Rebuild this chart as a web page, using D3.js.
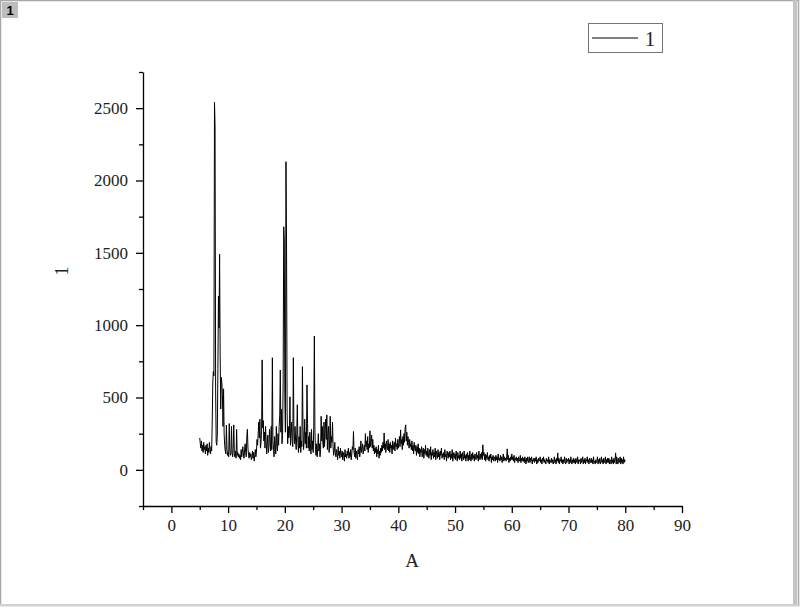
<!DOCTYPE html>
<html>
<head>
<meta charset="utf-8">
<script src="https://cdn.jsdelivr.net/npm/d3@7"></script>
<style>
  body { margin: 0; background: #fff; }
  svg text { font-family: "Liberation Serif", "DejaVu Serif", serif; fill: #222; }
</style>
</head>
<body>
<svg id="vis" width="800" height="608"></svg>
<script>
// 2-theta scan: starts at 5.0, one reading every 0.1 up to 80.0
var scanStart = 5.0, scanStep = 0.1;
var counts = [
  220,180,150,200,130,170,120,190,140,160,  // 5
  110,170,130,180,100,150,120,190,140,110,  // 6
  160,130,330,600,680,650,2540,2380,560,190, // 7
  170,240,700,1200,980,1490,800,420,640,600, // 8
  520,300,560,250,170,130,110,310,150,100,  // 9
  120,90,320,140,100,110,300,120,90,150,    // 10
  310,110,90,130,80,280,100,120,90,110,     // 11
  80,100,70,140,90,120,160,110,80,130,      // 12
  180,120,90,230,280,150,100,80,120,90,     // 13
  110,70,90,130,80,120,60,100,140,90,       // 14
  130,210,170,250,330,220,350,150,190,270,  // 15
  760,290,340,200,260,150,300,200,110,180,  // 16
  240,120,160,280,210,130,300,140,775,200,  // 17
  150,90,230,180,110,300,160,130,250,170,   // 18
  300,380,690,260,420,180,240,600,1680,1590, // 19
  520,260,2130,1554,400,180,300,220,250,505, // 20
  170,250,330,200,160,775,260,180,300,200,  // 21
  140,250,450,190,120,230,150,300,120,200,  // 22
  160,713,300,140,200,350,180,260,150,587,  // 23
  320,150,230,130,260,180,110,280,140,200,  // 24
  120,300,925,270,140,100,180,90,150,250,   // 25
  130,180,90,140,370,200,300,180,150,330,   // 26
  160,280,350,210,380,140,250,300,120,200,  // 27
  370,150,230,190,330,160,100,130,190,120,  // 28
  90,140,110,70,160,100,130,80,150,110,     // 29
  90,130,70,120,100,60,140,90,110,80,       // 30
  130,100,150,80,120,90,140,70,110,160,     // 31
  140,265,120,90,150,80,130,100,70,140,     // 32
  110,160,90,130,200,120,150,180,110,140,   // 33
  170,130,250,160,200,140,230,120,180,150,  // 34
  270,160,190,240,150,210,130,170,110,150,  // 35
  120,160,90,140,110,170,80,130,100,150,    // 36
  120,170,130,190,150,255,140,180,120,200,  // 37
  160,140,210,130,180,120,190,150,170,110,  // 38
  200,140,170,190,130,220,160,180,140,210,  // 39
  150,190,230,160,276,180,210,140,230,170,  // 40
  250,190,290,311,200,260,170,230,190,150,  // 41
  210,160,180,140,200,130,170,110,190,150,  // 42
  130,170,100,160,120,180,110,150,90,140,   // 43
  120,160,90,130,150,80,140,110,170,100,    // 44
  130,90,150,110,80,140,100,160,70,120,     // 45
  100,140,80,120,90,150,70,130,110,80,      // 46
  140,90,120,70,130,100,150,80,110,90,      // 47
  120,70,140,90,110,60,130,100,80,120,      // 48
  90,130,70,110,80,140,60,100,120,80,       // 49
  110,70,130,90,60,120,80,100,70,130,       // 50
  80,110,60,120,90,70,130,80,100,60,        // 51
  110,80,120,60,100,70,130,90,60,110,       // 52
  70,120,80,100,60,110,90,70,120,80,        // 53
  100,60,130,90,70,110,80,120,70,173,       // 54
  100,120,70,110,60,100,80,120,70,90,       // 55
  60,100,80,110,50,90,70,100,60,90,         // 56
  80,60,100,70,90,50,110,70,80,60,          // 57
  100,70,90,50,80,110,60,90,70,80,          // 58
  60,90,145,70,100,50,80,60,90,70,          // 59
  110,70,90,60,100,50,80,70,90,60,          // 60
  80,50,90,70,60,100,50,80,60,90,           // 61
  60,80,50,90,70,40,80,60,90,50,            // 62
  70,90,50,80,60,90,40,70,60,80,            // 63
  50,80,60,90,40,70,50,80,60,70,            // 64
  90,50,70,40,80,60,90,50,70,60,            // 65
  40,80,60,70,50,90,40,70,60,50,            // 66
  80,50,70,40,60,90,50,70,40,80,            // 67
  60,117,50,80,40,70,60,90,50,70,           // 68
  40,70,50,90,60,40,80,50,70,60,            // 69
  80,40,70,50,90,60,40,70,50,80,            // 70
  50,70,40,80,60,50,90,40,70,60,            // 71
  70,40,80,50,60,90,40,70,50,80,            // 72
  40,70,60,90,50,70,40,80,60,50,            // 73
  80,50,70,40,90,50,60,40,70,50,            // 74
  60,90,40,70,50,80,40,60,90,50,            // 75
  70,40,80,50,60,90,40,70,50,80,            // 76
  50,80,40,70,60,40,90,50,70,40,            // 77
  80,50,70,117,40,90,60,40,80,50,           // 78
  60,90,40,80,50,70,40,90,50,70,            // 79
  60                                        // 80
];

var xMajor = [0, 10, 20, 30, 40, 50, 60, 70, 80, 90];
var xMinor = [-5, 5, 15, 25, 35, 45, 55, 65, 75, 85];
var yMajor = [0, 500, 1000, 1500, 2000, 2500];
var yMinor = [-250, 250, 750, 1250, 1750, 2250, 2750];
var seriesName = "1";
var xTitle = "A", yTitle = "1";

var svg = d3.select("#vis");

// window frame
svg.append("rect").attr("x", 0.5).attr("y", 0.5).attr("width", 798).attr("height", 605)
    .attr("fill", "none").attr("stroke", "#a8a8a8").attr("stroke-width", 1.5);
svg.append("rect").attr("x", 793).attr("y", 0).attr("width", 4).attr("height", 606).attr("fill", "#c4c4c4");
svg.append("rect").attr("x", 0).attr("y", 604).attr("width", 800).attr("height", 2).attr("fill", "#d0d0d0");
svg.append("rect").attr("x", 2).attr("y", 2).attr("width", 16).attr("height", 16).attr("fill", "#bdbdbd");
svg.append("text").attr("x", 10).attr("y", 15).attr("text-anchor", "middle")
    .style("font-family", "'Liberation Sans', Arial, sans-serif").style("font-weight", "bold")
    .style("font-size", "13px").style("fill", "#000").text("1");

var x = d3.scaleLinear().domain([-5, 90]).range([143, 682]);
var y = d3.scaleLinear().domain([-250, 2750]).range([506, 72]);

var points = counts.map(function(c, i) { return { a: scanStart + i * scanStep, c: c }; });

var line = d3.line()
    .x(function(d) { return x(d.a); })
    .y(function(d) { return y(d.c); });

svg.append("path")
    .datum(points)
    .attr("fill", "none")
    .attr("stroke", "#000")
    .attr("stroke-width", 1)
    .attr("d", line);

// axes
var xAxis = svg.append("g").attr("transform", "translate(0,506)")
    .call(d3.axisBottom(x).tickValues(xMajor).tickSize(7).tickSizeOuter(0).tickPadding(6).tickFormat(d3.format("d")));
svg.append("g").attr("transform", "translate(0,506)")
    .call(d3.axisBottom(x).tickValues(xMinor).tickSize(4).tickSizeOuter(0).tickFormat(""))
    .select(".domain").remove();

var yAxis = svg.append("g").attr("transform", "translate(143,0)")
    .call(d3.axisLeft(y).tickValues(yMajor).tickSize(7).tickSizeOuter(0).tickPadding(8).tickFormat(d3.format("d")));
svg.append("g").attr("transform", "translate(143,0)")
    .call(d3.axisLeft(y).tickValues(yMinor).tickSize(4).tickSizeOuter(0).tickFormat(""))
    .select(".domain").remove();

svg.selectAll(".tick line").attr("stroke", "#000").attr("stroke-width", 1.3);
svg.selectAll(".domain").attr("stroke", "#000").attr("stroke-width", 1.3);
svg.selectAll(".tick text")
    .style("font-family", "'Liberation Serif', serif")
    .style("font-size", "17px").style("fill", "#222");

svg.append("text").attr("x", 412).attr("y", 567).attr("text-anchor", "middle")
    .style("font-size", "19px").text(xTitle);
svg.append("text").attr("transform", "translate(68,271) rotate(-90)").attr("text-anchor", "middle")
    .style("font-size", "19px").text(yTitle);

// legend
var legend = svg.append("g").attr("transform", "translate(588,23)");
legend.append("rect").attr("x", 0.5).attr("y", 0.5).attr("width", 74).attr("height", 29)
    .attr("fill", "#fff").attr("stroke", "#777").attr("stroke-width", 1);
legend.append("line").attr("x1", 4).attr("x2", 50).attr("y1", 15).attr("y2", 15)
    .attr("stroke", "#000").attr("stroke-width", 1);
legend.append("text").attr("x", 62).attr("y", 23).attr("text-anchor", "middle")
    .style("font-size", "21px").text(seriesName);
</script>
</body>
</html>
